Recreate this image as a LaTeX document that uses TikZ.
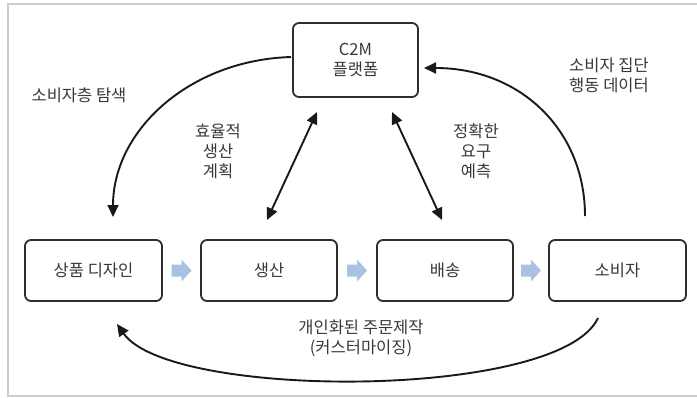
\documentclass[tikz,border=0pt]{standalone}
\usepackage{fontspec}
\setmainfont{Noto Sans CJK KR}
\usetikzlibrary{arrows.meta,calc}
\definecolor{txt}{HTML}{383838}
\definecolor{boxline}{HTML}{2E2E2E}
\definecolor{frame}{HTML}{CCCCCC}
\definecolor{chev}{HTML}{A9C1E2}
\tikzset{
  stagebox/.style={draw=boxline, line width=1.8pt, rounded corners=6pt, fill=white,
    minimum width=136pt, minimum height=61pt, inner sep=0pt, text=txt, font=\fontsize{16.5pt}{20pt}\selectfont, align=center},
  lbl/.style={text=txt, font=\fontsize{16.5pt}{20pt}\selectfont, align=center, inner sep=0pt},
  conn/.style={draw=black!90, line width=1.9pt, -{Triangle[length=12pt,width=11pt]}},
  dconn/.style={draw=black!90, line width=1.9pt, {Triangle[length=12pt,width=11pt]}-{Triangle[length=12pt,width=11pt]}},
  chevron/.style={fill=chev, draw=none}
}
\newcommand{\mychev}[1]{\fill[chevron] ([shift={(-10,-6)}]#1) -- ++(10,0) -- ++(0,-5) -- ++(10,11) -- ++(-10,11) -- ++(0,-5) -- ++(-10,0) -- cycle;}
\begin{document}
\begin{tikzpicture}[x=1pt,y=-1pt]
\useasboundingbox (0,0) rectangle (697,397);
% frame
\draw[frame, line width=1.5pt] (697,4) -- (8,4) -- (8,396) -- (697,396);

% nodes
\node[stagebox, minimum width=125pt, minimum height=74pt] (c2m) at (355.5,60) {C2M\\플랫폼};
\node[stagebox, minimum width=137pt] (b1) at (93.5,270.5) {상품 디자인};
\node[stagebox] (b2) at (269,270.5) {생산};
\node[stagebox] (b3) at (445,270.5) {배송};
\node[stagebox, minimum width=137pt] (b4) at (617.5,270.5) {소비자};

% chevrons between stages
\path ($(b1.east)!0.5!(b2.west)$) coordinate (m12);
\path ($(b2.east)!0.5!(b3.west)$) coordinate (m23);
\path ($(b3.east)!0.5!(b4.west)$) coordinate (m34);
\mychev{m12}
\mychev{m23}
\mychev{m34}

% labels
\node[lbl] (l1) at (79,95) {소비자층 탐색};
\node[lbl] (l2) at (218,151) {효율적\\생산\\계획};
\node[lbl] (l3) at (476,151) {정확한\\요구\\예측};
\node[lbl] (l4) at (609,75) {소비자 집단\\행동 데이터};
\node[lbl] (l5) at (361,338) {개인화된 주문제작\\(커스터마이징)};

% connector endpoints
\coordinate (s1) at (291,57);
\coordinate (e1) at (113,217);
\coordinate (s2) at (585,216);
\coordinate (e2) at (424,68);
\coordinate (s3) at (598,318);
\coordinate (e3) at (117,324);
\coordinate (d1a) at (267,220);
\coordinate (d1b) at (317,112);
\coordinate (d2a) at (442,220);
\coordinate (d2b) at (392,112);

\draw[conn] (s1) .. controls (190,60) and (113,130) .. (e1);
\draw[conn] (s2) .. controls (585,130) and (520,68) .. (e2);
\draw[conn] (s3) .. controls (560,400) and (170,400) .. (e3);
\draw[dconn] (d1a) -- (d1b);
\draw[dconn] (d2a) -- (d2b);
\end{tikzpicture}
\end{document}
